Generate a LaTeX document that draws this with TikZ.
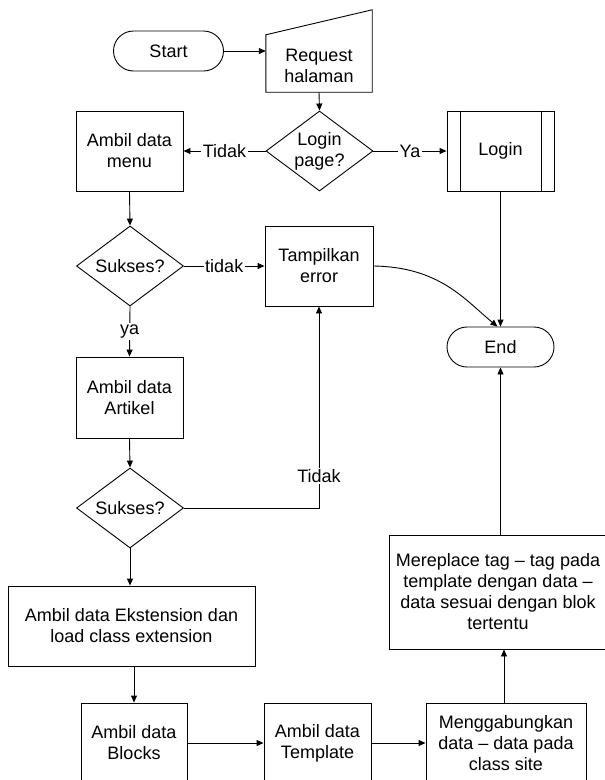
\documentclass[tikz,border=0pt]{standalone}
\usepackage{fontspec}
\setmainfont{Liberation Sans}
\usetikzlibrary{shapes.geometric,arrows.meta,calc}
\begin{document}
\begin{tikzpicture}[x=1pt,y=-1pt,
  every node/.style={font=\fontsize{18}{21}\selectfont, align=center, inner sep=0pt},
  box/.style={draw, line width=0.9pt, minimum width=107pt, minimum height=80pt},
  term/.style={draw, line width=0.9pt, rounded corners=20pt, minimum width=110pt, minimum height=40pt},
  dec/.style={draw, diamond, line width=0.9pt, aspect=1.34, minimum width=107pt, minimum height=80pt},
  arr/.style={line width=0.9pt, -{Triangle[length=7pt,width=6pt]}},
  ln/.style={line width=0.9pt},
  lbl/.style={fill=white, inner sep=1.5pt}]
\useasboundingbox (0,0) rectangle (605,780);
\clip (0,0) rectangle (605,780);

% nodes
\node[term] (start) at (168.5,51) {Start};
\node[minimum width=106pt, minimum height=82pt] (req) at (319,51) {};
\draw[ln] (req.south west) -- (req.south east) -- (req.north east) -- ($(req.north west)+(0,25)$) -- cycle;
\node (reqtext) at (319,66) {Request\\halaman};
\node[dec] (lp) at (319.5,151) {Login\\page?};
\node[box] (menu) at (129.5,151) {Ambil data\\menu};
\node[box] (login) at (500.5,151) {Login};
\draw[ln] ([xshift=14pt]login.north west) -- ([xshift=14pt]login.south west);
\draw[ln] ([xshift=-13pt]login.north east) -- ([xshift=-13pt]login.south east);
\node[dec] (s1) at (130,266) {Sukses?};
\node[box, minimum width=108pt] (err) at (319,266) {Tampilkan\\error};
\node[term, minimum width=107pt] (end) at (500.5,347) {End};
\node[box, minimum height=81pt] (art) at (129.5,397.5) {Ambil data\\Artikel};
\node[dec] (s2) at (130,508) {Sukses?};
\node[box, minimum width=247pt] (ext) at (131.5,626) {Ambil data Ekstension dan\\load class extension};
\node[box, minimum width=218pt, minimum height=114pt] (mr) at (498,592) {Mereplace tag -- tag pada\\template dengan data --\\data sesuai dengan blok\\tertentu};
\node[box, minimum width=106pt] (blocks) at (134,743) {Ambil data\\Blocks};
\node[box] (tpl) at (317.5,743) {Ambil data\\Template};
\node[box, minimum width=160pt] (mg) at (506,743) {Menggabungkan\\data -- data pada\\class site};

% connectors
\draw[arr] (start.east) -- (req.west);
\draw[arr] (req.south) -- (lp.north);
\draw[arr] (lp.west) -- node[lbl]{Tidak} (menu.east);
\draw[arr] (lp.east) -- node[lbl]{Ya} (login.west);
\draw[arr] (menu.south) -- (s1.north);
\draw[arr] (s1.east) -- node[lbl]{tidak} (err.west);
\draw[arr] (s1.south) -- node[lbl]{ya} (art.north);
\draw[arr] (art.south) -- (s2.north);
\draw[arr] (s2.east) -| node[lbl, pos=0.58]{Tidak} (err.south);
\draw[arr] (s2.south) -- (s2.south |- ext.north);
\draw[arr] (blocks.north |- ext.south) -- (blocks.north);
\draw[arr] (blocks.east) -- (tpl.west);
\draw[arr] (tpl.east) -- (mg.west);
\draw[arr] ([xshift=-2pt]mg.north) -- ([xshift=-2pt]mg.north |- mr.south);
\draw[arr] (end.south |- mr.north) -- (end.south);
\draw[arr] (login.south) -- (end.north);
\draw[arr] (err.east) .. controls (440,267) and (465,300) .. ([xshift=-3pt]end.north);
\end{tikzpicture}
\end{document}
